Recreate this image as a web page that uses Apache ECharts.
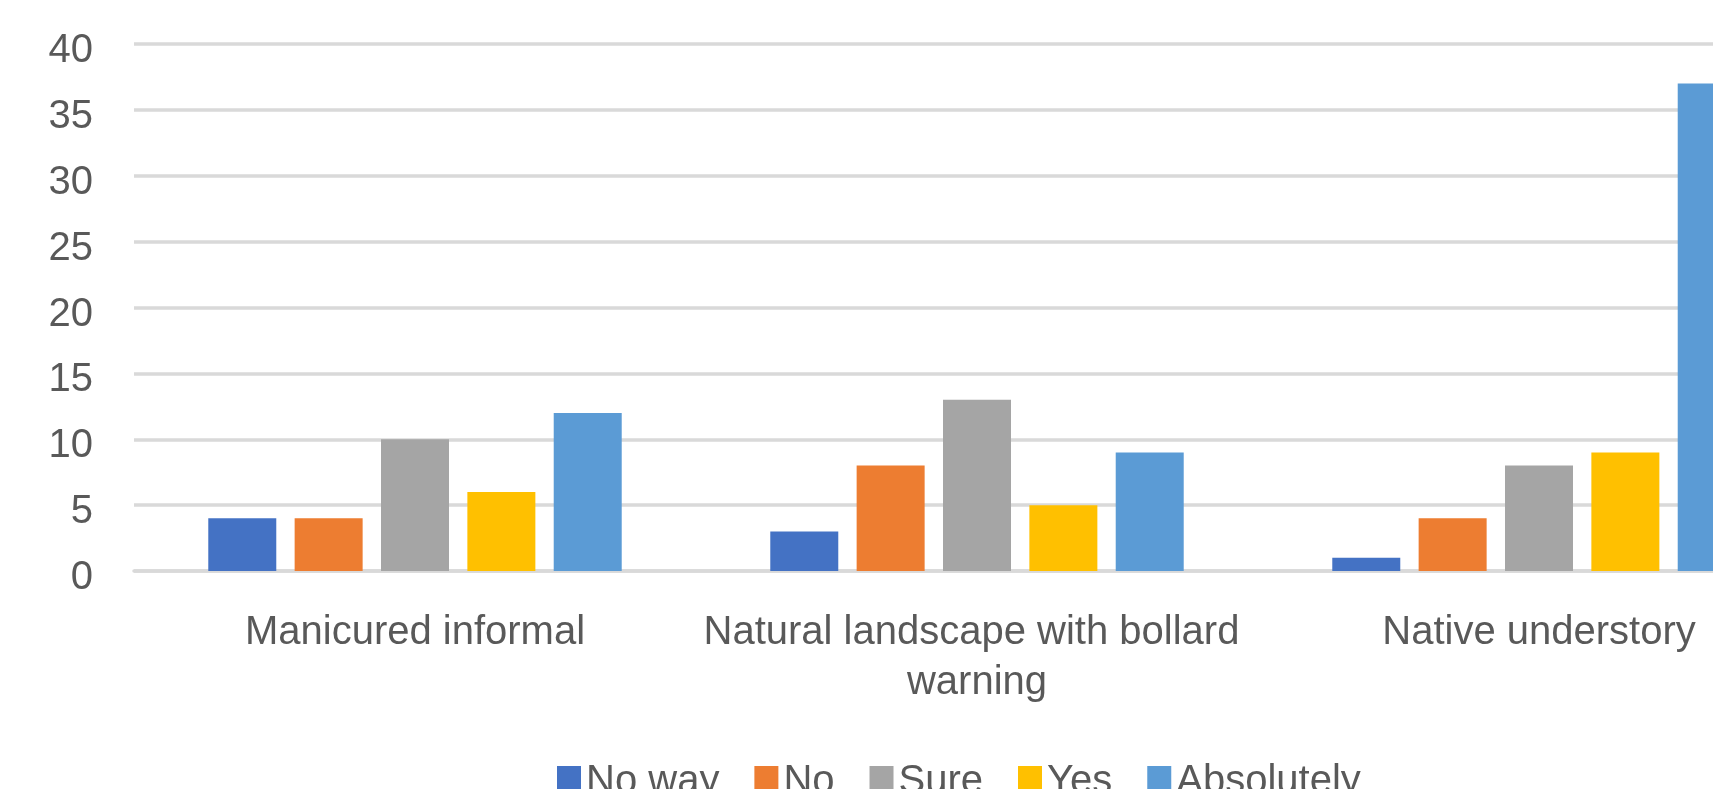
<!DOCTYPE html>
<html>
<head>
<meta charset="utf-8">
<title>Survey responses by landscape type</title>
<script src="https://cdn.jsdelivr.net/npm/echarts@6/dist/echarts.min.js"></script>
<style>
  html, body { margin: 0; padding: 0; background: #ffffff; overflow: hidden; width: 1713px; height: 789px; }
  /* the plot runs past the right edge of the page, so the last bar is cut off */
  #chart { width: 1830px; height: 789px; }
</style>
</head>
<body>
<div id="chart"></div>
<script>
// Landscape treatments shown on the category axis
const categories = ['Manicured informal', 'Natural landscape with bollard warning', 'Native understory'];

// Response counts per answer, one value per landscape treatment
const noWay      = [4, 3, 1];
const no         = [4, 8, 4];
const sure       = [10, 13, 8];
const yes        = [6, 5, 9];
const absolutely = [12, 9, 37];

const seriesNames = ['No way', 'No', 'Sure', 'Yes', 'Absolutely'];
const seriesData  = [noWay, no, sure, yes, absolutely];
const colors      = ['#4472C4', '#ED7D31', '#A5A5A5', '#FFC000', '#5B9BD5'];

// Value axis ticks
const yMin = 0, yMax = 40, yStep = 5;

const FONT = '"Liberation Sans", Arial, sans-serif';
const TEXT = '#595959';
const GRID = '#D9D9D9';

const chart = echarts.init(document.getElementById('chart'), null, { renderer: 'canvas' });

chart.setOption({
  animation: false,
  backgroundColor: '#ffffff',
  color: colors,
  grid: {
    left: 134,
    right: 10,
    top: 44,
    bottom: 218,
    containLabel: false
  },
  legend: {
    data: seriesNames,
    left: 557,
    top: 762,
    padding: 0,
    itemWidth: 24,
    itemHeight: 32,
    itemGap: 35,
    icon: 'rect',
    textStyle: { fontFamily: FONT, fontSize: 40, color: TEXT }
  },
  xAxis: {
    type: 'category',
    data: categories,
    axisLine: { show: true, lineStyle: { color: GRID, width: 3.5 } },
    axisTick: { show: false },
    axisLabel: {
      margin: 37,
      interval: 0,
      fontFamily: FONT,
      fontSize: 40,
      lineHeight: 50,
      color: TEXT,
      width: 550,
      overflow: 'break'
    }
  },
  yAxis: {
    type: 'value',
    min: yMin,
    max: yMax,
    interval: yStep,
    axisLine: { show: false },
    axisTick: { show: false },
    splitLine: { lineStyle: { color: GRID, width: 3.5 } },
    axisLabel: {
      margin: 41,
      verticalAlign: 'top',
      lineHeight: 14,
      fontFamily: FONT,
      fontSize: 40,
      color: TEXT
    }
  },
  series: seriesNames.map((name, i) => ({
    name: name,
    type: 'bar',
    data: seriesData[i],
    barWidth: 68,
    barGap: '27%',
    itemStyle: { color: colors[i] }
  }))
});
</script>
</body>
</html>
